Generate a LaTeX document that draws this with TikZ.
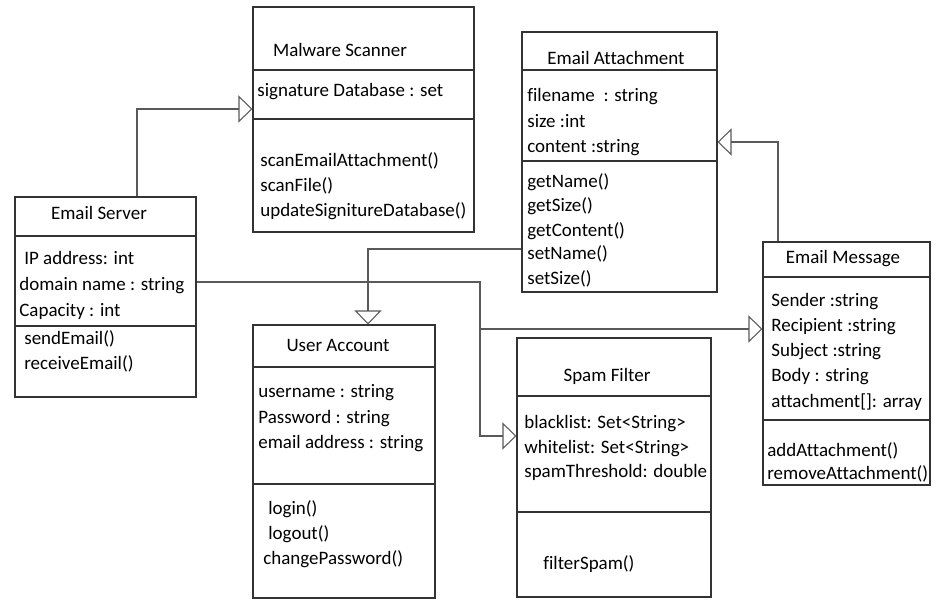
\documentclass[tikz,border=0pt]{standalone}
\usepackage{fontspec}
\setmainfont[Ligatures={NoCommon,NoContextual}]{Carlito}
\usetikzlibrary{arrows.meta,fit}

\tikzset{
  cls/.style={draw=black!80, line width=0.6pt, inner sep=0pt},
  divider/.style={draw=black!80, line width=0.6pt},
  gen/.style={draw=black!65, line width=0.6pt, -{Triangle[open,length=0.28cm,width=0.54cm]}},
  txt/.style={anchor=base west, inner sep=0pt, text=black},
  ttl/.style={anchor=base, inner sep=0pt, text=black},
}

\begin{document}
\begin{tikzpicture}[x=0.02cm, y=-0.02cm, font=\fontsize{10.8}{13}\selectfont]
\useasboundingbox (0,0) rectangle (948,611);

% Email Server
\node[cls, fit={(15,197) (196,397)}] (es) {};
\draw[divider] (es.west |- 0,236) -- (es.east |- 0,236);
\draw[divider] (es.west |- 0,326) -- (es.east |- 0,326);
\node[ttl] (es-name) at (99,220) {Email Server};
\node[txt] (es-a1) at (24,265) {IP address: int};
\node[txt] (es-a2) at (19,291) {domain name : string};
\node[txt] (es-a3) at (19,317) {Capacity : int};
\node[txt] (es-m1) at (24,345) {sendEmail()};
\node[txt] (es-m2) at (24,370) {receiveEmail()};

% Malware Scanner
\node[cls, fit={(253,7) (474,232)}] (ms) {};
\draw[divider] (ms.west |- 0,70) -- (ms.east |- 0,70);
\draw[divider] (ms.west |- 0,119) -- (ms.east |- 0,119);
\node[ttl] (ms-name) at (340,57) {Malware Scanner};
\node[txt] (ms-a1) at (257,97) {signature Database : set};
\node[txt] (ms-m1) at (260,167) {scanEmailAttachment()};
\node[txt] (ms-m2) at (260,192) {scanFile()};
\node[txt] (ms-m3) at (260,217) {updateSignitureDatabase()};

% Email Attachment
\node[cls, fit={(522,32) (717,292)}] (ea) {};
\draw[divider] (ea.west |- 0,70) -- (ea.east |- 0,70);
\draw[divider] (ea.west |- 0,161) -- (ea.east |- 0,161);
\node[ttl] (ea-name) at (616,65) {Email Attachment};
\node[txt] (ea-a1) at (527,102) {filename~ : string};
\node[txt] (ea-a2) at (527,128) {size :int};
\node[txt] (ea-a3) at (527,153) {content :string};
\node[txt] (ea-m1) at (527,188) {getName()};
\node[txt] (ea-m2) at (527,212) {getSize()};
\node[txt] (ea-m3) at (527,237) {getContent()};
\node[txt] (ea-m4) at (527,260) {setName()};
\node[txt] (ea-m5) at (527,285) {setSize()};

% Email Message
\node[cls, fit={(763,242) (930,485)}] (em) {};
\draw[divider] (em.west |- 0,277) -- (em.east |- 0,277);
\draw[divider] (em.west |- 0,420) -- (em.east |- 0,420);
\node[ttl] (em-name) at (843,264) {Email Message};
\node[txt] (em-a1) at (771,307) {Sender :string};
\node[txt] (em-a2) at (771,332) {Recipient :string};
\node[txt] (em-a3) at (771,357) {Subject :string};
\node[txt] (em-a4) at (771,382) {Body : string};
\node[txt] (em-a5) at (771,408) {attachment[]: array};
\node[txt] (em-m1) at (767,457) {addAttachment()};
\node[txt] (em-m2) at (767,480) {removeAttachment()};

% User Account
\node[cls, fit={(253,325) (435,598)}] (ua) {};
\draw[divider] (ua.west |- 0,367) -- (ua.east |- 0,367);
\draw[divider] (ua.west |- 0,484) -- (ua.east |- 0,484);
\node[ttl] (ua-name) at (338,352) {User Account};
\node[txt] (ua-a1) at (258,398) {username : string};
\node[txt] (ua-a2) at (258,424) {Password : string};
\node[txt] (ua-a3) at (258,449) {email address : string};
\node[txt] (ua-m1) at (268,515) {login()};
\node[txt] (ua-m2) at (268,540) {logout()};
\node[txt] (ua-m3) at (263,565) {changePassword()};

% Spam Filter
\node[cls, fit={(517,338) (711,597)}] (sf) {};
\draw[divider] (sf.west |- 0,396) -- (sf.east |- 0,396);
\draw[divider] (sf.west |- 0,512) -- (sf.east |- 0,512);
\node[ttl] (sf-name) at (607,382) {Spam Filter};
\node[txt] (sf-a1) at (524,429) {blacklist: Set<String>};
\node[txt] (sf-a2) at (524,454) {whitelist: Set<String>};
\node[txt] (sf-a3) at (524,478) {spamThreshold: double};
\node[txt] (sf-m1) at (543,570) {filterSpam()};

% relations
\draw[gen] (es.north -| 137,0) |- (ms.west |- 0,109);
\draw[gen] (es.east |- 0,282) -| (480,436) -- (sf.west |- 0,436);
\coordinate (junc) at (480,329);
\draw[gen] (junc) -- (em.west |- junc);
\draw[gen] (ea.west |- 0,249) -| (ua.north -| 368,0);
\draw[gen] (em.north -| 778,0) |- (ea.east |- 0,142);
\end{tikzpicture}
\end{document}
